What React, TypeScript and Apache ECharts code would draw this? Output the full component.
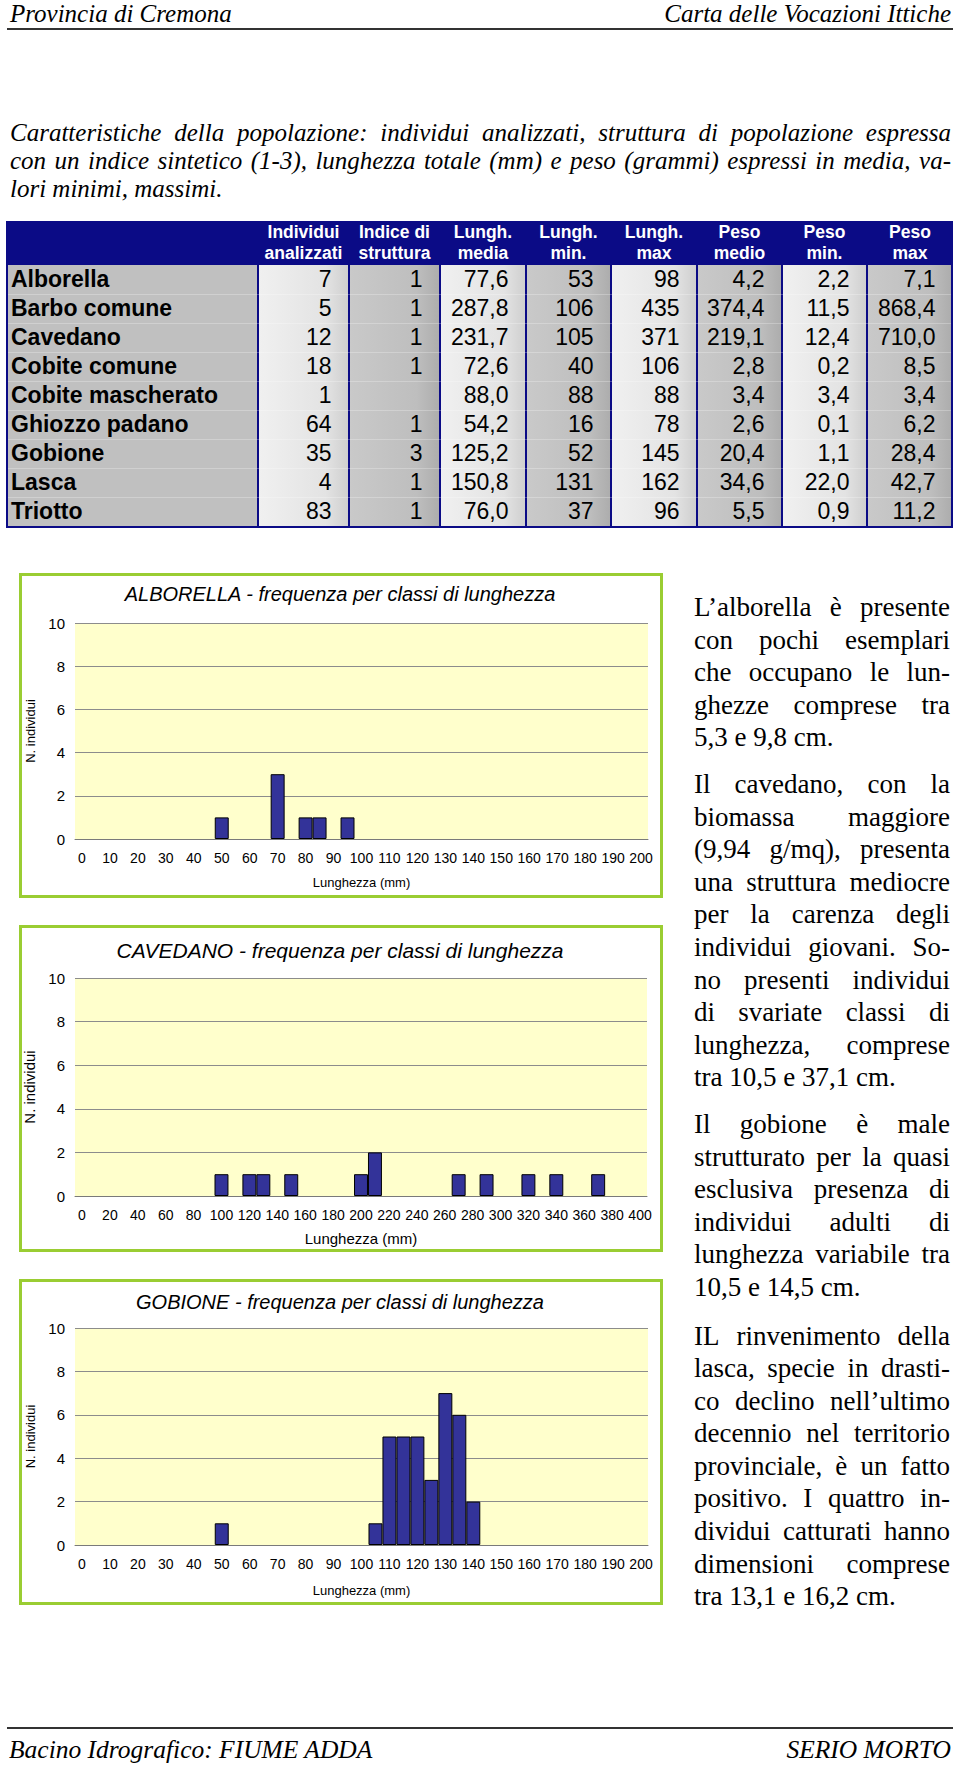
import React, { useEffect, useRef } from "react";
import * as echarts from "echarts";

// ---------- DATA ----------
const specie = ["Alborella", "Barbo comune", "Cavedano", "Cobite comune", "Cobite mascherato", "Ghiozzo padano", "Gobione", "Lasca", "Triotto"];
const individui = [7, 5, 12, 18, 1, 64, 35, 4, 83];
const indiceStruttura = [1, 1, 1, 1, null, 1, 3, 1, 1];
const lunghMedia = [77.6, 287.8, 231.7, 72.6, 88.0, 54.2, 125.2, 150.8, 76.0];
const lunghMin = [53, 106, 105, 40, 88, 16, 52, 131, 37];
const lunghMax = [98, 435, 371, 106, 88, 78, 145, 162, 96];
const pesoMedio = [4.2, 374.4, 219.1, 2.8, 3.4, 2.6, 20.4, 34.6, 5.5];
const pesoMin = [2.2, 11.5, 12.4, 0.2, 3.4, 0.1, 1.1, 22.0, 0.9];
const pesoMax = [7.1, 868.4, 710.0, 8.5, 3.4, 6.2, 28.4, 42.7, 11.2];
const intestazioni = [
  ["Individui", "analizzati"], ["Indice di", "struttura"], ["Lungh.", "media"], ["Lungh.", "min."],
  ["Lungh.", "max"], ["Peso", "medio"], ["Peso", "min."], ["Peso", "max"],
];

const classi5mm = ["0", "5", "10", "15", "20", "25", "30", "35", "40", "45", "50", "55", "60", "65", "70", "75", "80", "85", "90", "95", "100", "105", "110", "115", "120", "125", "130", "135", "140", "145", "150", "155", "160", "165", "170", "175", "180", "185", "190", "195", "200"];
const classi10mm = ["0", "10", "20", "30", "40", "50", "60", "70", "80", "90", "100", "110", "120", "130", "140", "150", "160", "170", "180", "190", "200", "210", "220", "230", "240", "250", "260", "270", "280", "290", "300", "310", "320", "330", "340", "350", "360", "370", "380", "390", "400"];
const freqAlborella = [0, 0, 0, 0, 0, 0, 0, 0, 0, 0, 1, 0, 0, 0, 3, 0, 1, 1, 0, 1, 0, 0, 0, 0, 0, 0, 0, 0, 0, 0, 0, 0, 0, 0, 0, 0, 0, 0, 0, 0, 0];
const freqCavedano = [0, 0, 0, 0, 0, 0, 0, 0, 0, 0, 1, 0, 1, 1, 0, 1, 0, 0, 0, 0, 1, 2, 0, 0, 0, 0, 0, 1, 0, 1, 0, 0, 1, 0, 1, 0, 0, 1, 0, 0, 0];
const freqGobione = [0, 0, 0, 0, 0, 0, 0, 0, 0, 0, 1, 0, 0, 0, 0, 0, 0, 0, 0, 0, 0, 1, 5, 5, 5, 3, 7, 6, 2, 0, 0, 0, 0, 0, 0, 0, 0, 0, 0, 0, 0];

const introLines = [
  "Caratteristiche della popolazione: individui analizzati, struttura di popolazione espressa",
  "con un indice sintetico (1-3), lunghezza totale (mm) e peso (grammi) espressi in media, va-",
  "lori minimi, massimi.",
];
const testoAlborella = ["L’alborella è presente", "con pochi esemplari", "che occupano le lun-", "ghezze comprese tra", "5,3 e 9,8 cm."];
const testoCavedano = ["Il cavedano, con la", "biomassa maggiore", "(9,94 g/mq), presenta", "una struttura mediocre", "per la carenza degli", "individui giovani. So-", "no presenti individui", "di svariate classi di", "lunghezza, comprese", "tra 10,5 e 37,1 cm."];
const testoGobione = ["Il gobione è male", "strutturato per la quasi", "esclusiva presenza di", "individui adulti di", "lunghezza variabile tra", "10,5 e 14,5 cm."];
const testoLasca = ["IL rinvenimento della", "lasca, specie in drasti-", "co declino nell’ultimo", "decennio nel territorio", "provinciale, è un fatto", "positivo. I quattro in-", "dividui catturati hanno", "dimensioni comprese", "tra 13,1 e 16,2 cm."];

// ---------- STYLE ----------
const SERIF = '"Liberation Serif", "Times New Roman", serif';
const SANS = '"Liberation Sans", Arial, sans-serif';
const NAVY = "#0b0b86";
const fmt = (v: number | null) => (v == null ? "" : v.toFixed(1).replace(".", ","));
const plain = (v: number | null) => (v == null ? "" : String(v));

function Line({ text, justify }: { text: string; justify: boolean }) {
  if (justify) {
    const words = text.split(" ");
    return (
      <div style={{ display: "flex", justifyContent: "space-between", whiteSpace: "pre" }}>
        {words.map((w, i) => <span key={i}>{w}</span>)}
      </div>
    );
  }
  return <div style={{ whiteSpace: "pre" }}>{text}</div>;
}

function Para({ lines, left, top, width, size, lh, italic }: any) {
  return (
    <div style={{ position: "absolute", left, top, width, fontFamily: SERIF, fontSize: size, fontStyle: italic ? "italic" : "normal", lineHeight: lh + "px", color: "#000" }}>
      {lines.map((l: string, i: number) => <Line key={i} text={l} justify={i < lines.length - 1} />)}
    </div>
  );
}

const colEdges = [258, 349, 440, 526, 611, 697, 782, 867, 953];
const TAB_TOP = 221;
const HEAD_H = 44;
const ROW_H = 29;

function Tabella() {
  const cols: string[][] = [
    individui.map(plain), indiceStruttura.map(plain), lunghMedia.map(fmt), lunghMin.map(plain),
    lunghMax.map(plain), pesoMedio.map(fmt), pesoMin.map(fmt), pesoMax.map(fmt),
  ];
  const light = "linear-gradient(90deg, #f0f0f0 0%, #e3e3e3 75%, #cfcfcf 100%)";
  const dark = "linear-gradient(90deg, #c9c9c9 0%, #bebebe 75%, #adadad 100%)";
  const bodyTop = TAB_TOP + HEAD_H;
  const bodyH = ROW_H * specie.length;
  const els: any[] = [];
  els.push(<div key="bg" style={{ position: "absolute", left: 6, top: TAB_TOP, width: 947, height: HEAD_H + bodyH + 2, background: NAVY }} />);
  els.push(<div key="namecol" style={{ position: "absolute", left: 8, top: bodyTop, width: 249, height: bodyH, background: "#c0c0c0" }} />);
  for (let j = 0; j < 8; j++) {
    const l = colEdges[j] + 1;
    const r = j === 7 ? 951 : colEdges[j + 1] - 1;
    els.push(<div key={"c" + j} style={{ position: "absolute", left: l, top: bodyTop, width: r - l, height: bodyH, background: j % 2 === 0 ? light : dark }} />);
    els.push(
      <div key={"h" + j} style={{ position: "absolute", left: colEdges[j], top: TAB_TOP, width: colEdges[j + 1] - colEdges[j], height: HEAD_H, display: "flex", flexDirection: "column", justifyContent: "center", alignItems: "center", color: "#fff", fontFamily: SANS, fontWeight: "bold", fontSize: 17.5, lineHeight: "21.5px" }}>
        <div>{intestazioni[j][0]}</div>
        <div>{intestazioni[j][1]}</div>
      </div>
    );
  }
  for (let i = 1; i < specie.length; i++) {
    els.push(<div key={"rl" + i} style={{ position: "absolute", left: 8, top: bodyTop + i * ROW_H, width: 943, height: 1, background: "rgba(255,255,255,0.25)" }} />);
  }
  specie.forEach((s, i) => {
    const top = bodyTop + i * ROW_H;
    els.push(<div key={"n" + i} style={{ position: "absolute", left: 11, top, height: ROW_H, lineHeight: ROW_H + "px", fontFamily: SANS, fontWeight: "bold", fontSize: 23, color: "#000", whiteSpace: "pre" }}>{s}</div>);
    for (let j = 0; j < 8; j++) {
      els.push(<div key={"v" + i + "_" + j} style={{ position: "absolute", left: colEdges[j], top, width: colEdges[j + 1] - colEdges[j] - 17.5, height: ROW_H, lineHeight: ROW_H + "px", textAlign: "right", fontFamily: SANS, fontSize: 23, color: "#000" }}>{cols[j][i]}</div>);
    }
  });
  return <>{els}</>;
}

// ---------- CHARTS ----------
const charts = [
  { title: "ALBORELLA - frequenza per classi di lunghezza", cats: classi5mm, vals: freqAlborella, grid: { left: 75, top: 63, width: 573, height: 216 }, titleTop: 22, titleSize: 20, axisNameSize: 13, xNameGap: 37, box: { y: 13, h: 325 } },
  { title: "CAVEDANO - frequenza per classi di lunghezza", cats: classi10mm, vals: freqCavedano, grid: { left: 75, top: 418, width: 572, height: 218 }, titleTop: 378, titleSize: 21, axisNameSize: 15, xNameGap: 35, box: { y: 365, h: 327 } },
  { title: "GOBIONE - frequenza per classi di lunghezza", cats: classi5mm, vals: freqGobione, grid: { left: 75, top: 768, width: 573, height: 217 }, titleTop: 730, titleSize: 20, axisNameSize: 13, xNameGap: 39, box: { y: 719, h: 326 } },
];

function buildOption() {
  return {
    animation: false,
    backgroundColor: "#ffffff",
    textStyle: { fontFamily: SANS },
    title: charts.map((c) => ({
      text: c.title,
      left: "center",
      top: c.titleTop,
      padding: 0,
      textStyle: { fontSize: c.titleSize, lineHeight: c.titleSize + 4, fontStyle: "italic", fontWeight: "normal", color: "#000", fontFamily: SANS },
    })),
    grid: charts.map((c) => ({ ...c.grid, show: true, backgroundColor: "#FFFFCC", borderWidth: 0 })),
    xAxis: charts.map((c, i) => ({
      type: "category",
      gridIndex: i,
      data: c.cats,
      boundaryGap: true,
      axisLine: { lineStyle: { color: "#7a7a7a", width: 1 } },
      axisTick: { interval: 1, inside: true, length: 4, lineStyle: { color: "#7a7a7a" } },
      axisLabel: { interval: 1, margin: 12, fontSize: 14, color: "#000", fontFamily: SANS, hideOverlap: false },
      name: "Lunghezza (mm)",
      nameLocation: "middle",
      nameGap: c.xNameGap,
      nameTextStyle: { fontSize: c.axisNameSize, color: "#000", fontFamily: SANS },
    })),
    yAxis: charts.map((c, i) => ({
      type: "value",
      gridIndex: i,
      min: 0,
      max: 10,
      interval: 2,
      axisLine: { show: false },
      axisTick: { show: false },
      splitLine: { lineStyle: { color: "#8c8c8c", width: 1 } },
      axisLabel: { margin: 10, fontSize: 15, color: "#000", fontFamily: SANS },
      name: "N. individui",
      nameLocation: "middle",
      nameRotate: 90,
      nameGap: 36,
      nameTextStyle: { fontSize: c.axisNameSize, color: "#000", fontFamily: SANS },
    })),
    series: charts.map((c, i) => ({
      type: "bar",
      xAxisIndex: i,
      yAxisIndex: i,
      data: c.vals.map((v) => (v === 0 ? null : v)),
      barCategoryGap: "0%",
      itemStyle: { color: "#333399", borderColor: "#000", borderWidth: 1 },
    })),
    graphic: charts.map((c) => ({
      type: "rect",
      silent: true,
      z: 100,
      shape: { x: 20.5, y: c.box.y + 1.5, width: 641, height: c.box.h - 3 },
      style: { fill: "none", stroke: "#9ACD32", lineWidth: 3 },
    })),
  };
}

const headStyle: any = { position: "absolute", top: 0, fontFamily: SERIF, fontStyle: "italic", fontSize: 25, lineHeight: "28px", whiteSpace: "pre", color: "#000" };

export default function App() {
  const ref = useRef<HTMLDivElement>(null);
  useEffect(() => {
    document.body.style.margin = "0";
    const chart = echarts.init(ref.current as HTMLDivElement, null, { renderer: "svg" });
    chart.setOption(buildOption() as any);
    return () => chart.dispose();
  }, []);

  return (
    <div style={{ position: "absolute", left: 0, top: 0, width: 960, height: 1765, background: "#fff", overflow: "hidden" }}>
      {/* header */}
      <div style={{ ...headStyle, left: 10, top: 0 }}>Provincia di Cremona</div>
      <div style={{ ...headStyle, right: 9, top: 0 }}>Carta delle Vocazioni Ittiche</div>
      <div style={{ position: "absolute", left: 7, top: 28, width: 946, height: 2, background: "#333" }} />

      <Para lines={introLines} left={10} top={119} width={941} size={25} lh={28} italic />

      <Tabella />

      <div ref={ref} style={{ position: "absolute", left: 0, top: 560, width: 680, height: 1060 }} />

      <Para lines={testoAlborella} left={694} top={591} width={256} size={27} lh={32.6} />
      <Para lines={testoCavedano} left={694} top={768} width={256} size={27} lh={32.6} />
      <Para lines={testoGobione} left={694} top={1108} width={256} size={27} lh={32.6} />
      <Para lines={testoLasca} left={694} top={1319.5} width={256} size={27} lh={32.6} />

      {/* footer */}
      <div style={{ position: "absolute", left: 7, top: 1727, width: 946, height: 2, background: "#333" }} />
      <div style={{ ...headStyle, left: 9, top: 1736, fontSize: 25.5 }}>Bacino Idrografico: FIUME ADDA</div>
      <div style={{ ...headStyle, right: 9, top: 1736, fontSize: 25.5 }}>SERIO MORTO</div>
    </div>
  );
}
